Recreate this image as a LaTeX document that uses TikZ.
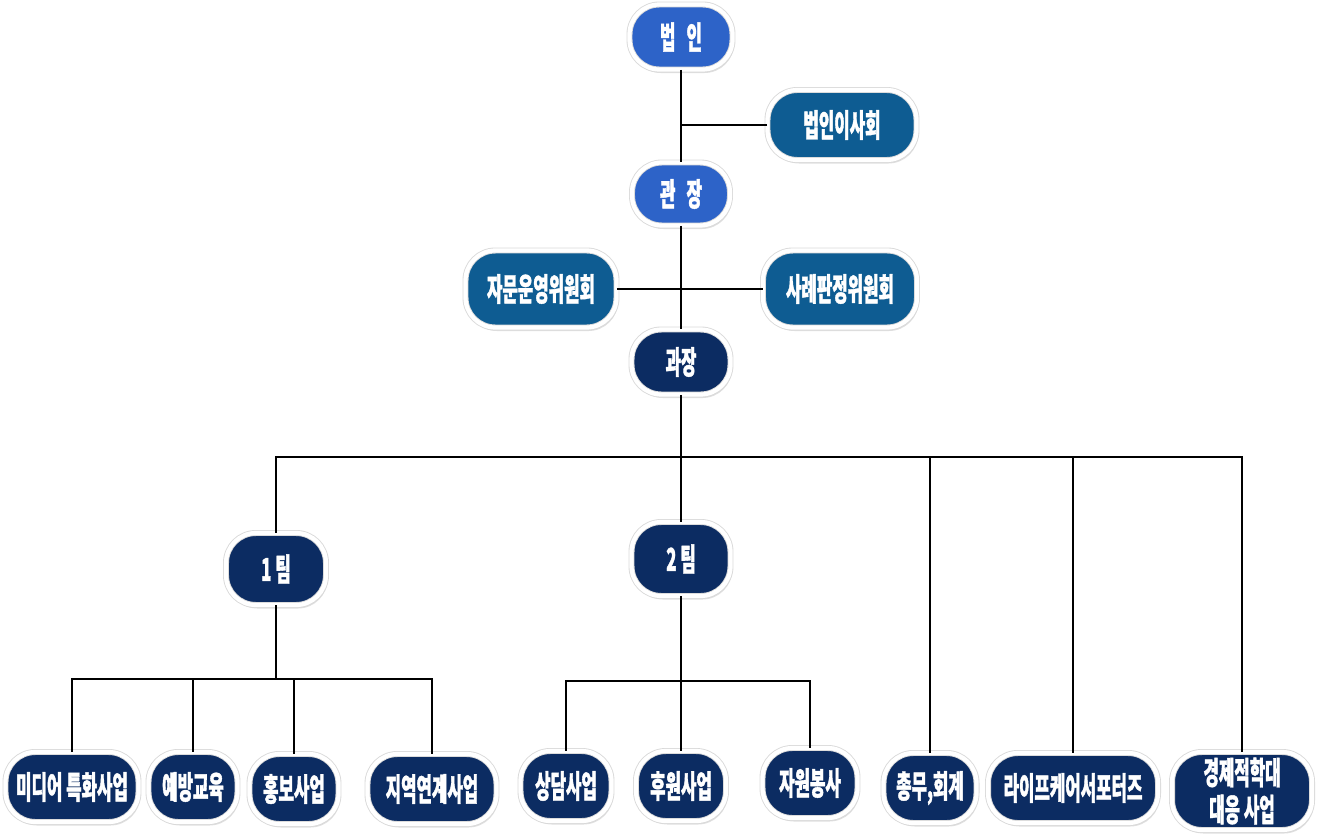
\documentclass[tikz,border=0pt]{standalone}
\usepackage{fontspec}
\newfontfamily\kr[FakeStretch=0.53, FakeBold=1.2]{Noto Sans CJK KR}
\usepackage{tikz}
\usetikzlibrary{shadows}

\definecolor{topblue}{HTML}{2D63C8}
\definecolor{midblue}{HTML}{0E5C92}
\definecolor{navy}{HTML}{0C2C62}

\begin{document}
\begin{tikzpicture}[
  x=0.02cm, y=-0.02cm,
  box/.style={draw=black!15, double=white, double distance=2.4pt, line width=0.5pt,
    rounded corners=17pt, text=white,
    font=\kr\bfseries\fontsize{18}{21}\selectfont, align=center, inner sep=2pt,
    drop shadow={shadow xshift=1pt, shadow yshift=-2pt, opacity=0.25}},
  sz/.style 2 args={minimum width=#1*0.02cm, minimum height=#2*0.02cm},
  head/.style={box, fill=topblue},
  board/.style={box, fill=midblue},
  unit/.style={box, fill=navy},
  link/.style={draw=black, line width=0.6pt}
]
\useasboundingbox (0,0) rectangle (1318,835);

% top: 법인 / 관장 and committees
\node[head, sz={103}{65}] (beobin) at (681,37) {법\hspace{0.35em}인};
\node[board, sz={149}{70}] (isahoe) at (842,125) {법인이사회};
\node[head, sz={98}{63}] (gwanjang) at (681,194) {관\hspace{0.35em}장};
\node[board, sz={151}{77}] (jamun) at (541,289) {자문운영위원회};
\node[board, sz={154}{77}] (sarye) at (840,289) {사례판정위원회};
\node[unit, sz={99}{65}] (gwajang) at (681,362) {과장};

% teams
\node[unit, sz={100}{72}] (team1) at (276,569) {1 팀};
\node[unit, sz={99}{74}] (team2) at (681,559) {2 팀};

% units under team 1
\node[unit, sz={133}{70}] (media) at (72,787) {미디어 특화사업};
\node[unit, sz={89}{70}] (yebang) at (193,787) {예방교육};
\node[unit, sz={89}{70}] (hongbo) at (294,789) {홍보사업};
\node[unit, sz={129}{70}] (jiyeok) at (432,789) {지역연계사업};

% units under team 2
\node[unit, sz={91}{70}] (sangdam) at (566,786) {상담사업};
\node[unit, sz={90}{70}] (huwon) at (681,786) {후원사업};
\node[unit, sz={95}{70}] (jawon) at (810,783) {자원봉사};

% units under 과장
\node[unit, sz={93}{70}] (chongmu) at (930,788) {총무,회계};
\node[unit, sz={170}{70}] (life) at (1073,788) {라이프케어서포터즈};
\node[unit, sz={140}{78}] (econ) at (1242,791) {경제적학대\\대응 사업};

% bus lines
\coordinate (bus) at (681,457);
\coordinate (bus1) at (276,679);
\coordinate (bus2) at (681,681);

\draw[link] (beobin) -- (gwanjang);
\draw[link] (isahoe.west) -- (beobin |- isahoe.west);
\draw[link] (gwanjang) -- (gwajang);
\draw[link] (jamun.east) -- (sarye.west);
\draw[link] (gwajang) -- (team2);
\draw[link] (team1.north) |- (bus) -| (econ.north);
\draw[link] (chongmu.north) -- (chongmu.north |- bus);
\draw[link] (life.north) -- (life.north |- bus);

\draw[link] (team1) -- (bus1);
\draw[link] (media.north) |- (bus1) -| (jiyeok.north);
\draw[link] (yebang.north) -- (yebang.north |- bus1);
\draw[link] (hongbo.north) -- (hongbo.north |- bus1);

\draw[link] (team2) -- (huwon);
\draw[link] (sangdam.north) |- (bus2) -| (jawon.north);

\end{tikzpicture}
\end{document}
